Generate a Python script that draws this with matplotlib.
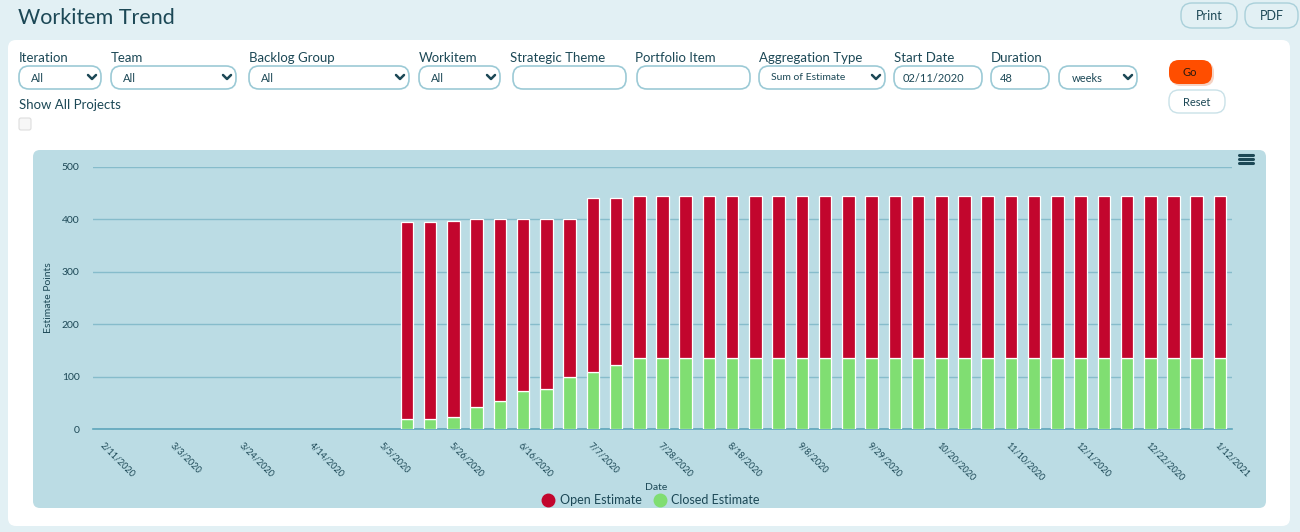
import matplotlib
matplotlib.use('Agg')
import matplotlib.pyplot as plt
import matplotlib.patches as patches
from matplotlib.lines import Line2D
import pandas as pd

plt.rcParams['font.family'] = ['Lato', 'DejaVu Sans']

# ---- data ----------------------------------------------------------------
weeks = pd.date_range('2020-02-11', periods=49, freq='7D')
week_labels = [f'{d.month}/{d.day}/{d.year}' for d in weeks]

open_estimate = [0, 0, 0, 0, 0, 0, 0, 0, 0, 0, 0, 0, 0,
                 375, 375, 373, 357, 346, 327, 324, 300, 331, 318,
                 309, 309, 309, 309, 309, 309, 309, 309, 309, 309, 309, 309, 309,
                 309, 309, 309, 309, 309, 309, 309, 309, 309, 309, 309, 309, 309]
closed_estimate = [0, 0, 0, 0, 0, 0, 0, 0, 0, 0, 0, 0, 0,
                   19, 19, 23, 43, 54, 73, 76, 100, 109, 122,
                   135, 135, 135, 135, 135, 135, 135, 135, 135, 135, 135, 135, 135,
                   135, 135, 135, 135, 135, 135, 135, 135, 135, 135, 135, 135, 135]

y_ticks = [0, 100, 200, 300, 400, 500]

# ---- colours -------------------------------------------------------------
page_bg = '#e2f0f4'
chart_bg = '#bbdce4'
grid_c = '#86bccb'
dark = '#1c4856'
red = '#c2062d'
green = '#80de72'
field_edge = '#9ccad6'

W, H = 1300, 532
fig = plt.figure(figsize=(W / 100, H / 100), dpi=100, facecolor=page_bg)

# background layer in pixel coordinates
bg = fig.add_axes([0, 0, 1, 1])
bg.set_xlim(0, W)
bg.set_ylim(H, 0)
bg.axis('off')


def rbox(x0, y0, x1, y1, r, fc, ec='none', lw=1.0, z=1):
    p = patches.FancyBboxPatch((x0 + r, y0 + r), (x1 - x0) - 2 * r, (y1 - y0) - 2 * r,
                               boxstyle=f'round,pad={r}', fc=fc, ec=ec, lw=lw, zorder=z)
    bg.add_patch(p)


def chevron(x, y):
    bg.plot([x - 4, x, x + 4], [y - 2, y + 2, y - 2], color=dark, lw=1.8,
            solid_capstyle='round', solid_joinstyle='round', zorder=3)


# title + top buttons
bg.text(18, 18, 'Workitem Trend', fontsize=15.5, color=dark, va='center', ha='left')
for x0, x1, t in [(1181, 1237, 'Print'), (1245, 1298, 'PDF')]:
    rbox(x0, 3, x1, 28, 11, page_bg, ec='#a9d0da', lw=1)
    bg.text((x0 + x1) / 2, 16, t, fontsize=9, color=dark, ha='center', va='center', zorder=3)

# white panel
rbox(8, 40, 1290, 526, 8, 'white')

# filter fields: (label, label_x, box_x0, box_x1, value, value_x, dropdown)
fields = [
    ('Iteration', 19, 19, 101, 'All', 31, True),
    ('Team', 111, 111, 236, 'All', 123, True),
    ('Backlog Group', 249, 249, 409, 'All', 261, True),
    ('Workitem', 419, 419, 500, 'All', 431, True),
    ('Strategic Theme', 510, 513, 626, '', 0, False),
    ('Portfolio Item', 635, 637, 750, '', 0, False),
    ('Aggregation Type', 759, 759, 885, 'Sum of Estimate', 771, True),
    ('Start Date', 894, 894, 982, '02/11/2020', 903, False),
    ('Duration', 991, 991, 1049, '48', 1000, False),
    ('', 0, 1059, 1137, 'weeks', 1072, True),
]
for lab, lx, x0, x1, val, vx, dd in fields:
    if lab:
        bg.text(lx, 58, lab, fontsize=9.5, color=dark, va='center', ha='left')
    rbox(x0, 66, x1, 89, 10, 'white', ec=field_edge, lw=1.2, z=2)
    if val:
        bg.text(vx, 78, val, fontsize=8 if len(val) < 12 else 7.5, color=dark,
                va='center', ha='left', zorder=3)
    if dd:
        chevron(x1 - 9, 77)

bg.text(19, 105, 'Show All Projects', fontsize=9.5, color=dark, va='center', ha='left')
rbox(19, 118, 31, 130, 2, '#f7f7f7', ec='#dddddd', lw=0.8, z=2)

# Go / Reset buttons
rbox(1171, 62, 1214, 86, 10, '#f5d3c4', z=1)
rbox(1169, 60, 1212, 84, 10, '#ff4e00', z=2)
bg.text(1190, 72, 'Go', fontsize=8, color='#2a1a10', ha='center', va='center', zorder=3)
rbox(1169, 90, 1225, 113, 10, 'white', ec='#c9e1e8', lw=1, z=2)
bg.text(1197, 102, 'Reset', fontsize=8, color=dark, ha='center', va='center', zorder=3)

# chart container
rbox(33, 150, 1266, 508, 7, chart_bg, z=1)
for yy in (155, 159, 163):
    bg.plot([1239, 1253], [yy, yy], color=dark, lw=2.2, solid_capstyle='round', zorder=3)

# ---- chart -----------------------------------------------------------------
left, right = 93.4, 1231.6
y0_px, y500_px = 429.3, 166.8
ax = fig.add_axes([left / W, 1 - y0_px / H, (right - left) / W, (y0_px - y500_px) / H])
ax.set_facecolor('none')
ax.set_zorder(5)

x = list(range(len(week_labels)))
lw_closed = [0.9 if v > 0 else 0 for v in closed_estimate]
lw_open = [0.9 if v > 0 else 0 for v in open_estimate]
ax.bar(x, closed_estimate, width=0.54, color=green, edgecolor='white', linewidth=lw_closed, zorder=3)
ax.bar(x, open_estimate, width=0.54, bottom=closed_estimate, color=red,
       edgecolor='white', linewidth=lw_open, zorder=3)

ax.set_xlim(-0.5, len(x) - 0.5)
ax.set_ylim(0, 500)
ax.set_yticks(y_ticks)
ax.set_yticklabels([str(v) for v in y_ticks])
ax.grid(axis='y', color=grid_c, lw=1, zorder=0)
ax.set_axisbelow(True)
for s in ('top', 'right', 'left'):
    ax.spines[s].set_visible(False)
ax.spines['bottom'].set_color('#5fa6bb')
ax.spines['bottom'].set_linewidth(1.2)
ax.tick_params(axis='y', length=0, pad=10, labelsize=7.5, labelcolor=dark)

ax.set_xticks(x[::3])
ax.set_xticklabels(week_labels[::3], rotation=-45, ha='left', va='top',
                   rotation_mode='anchor', fontsize=6.5, color=dark)
ax.tick_params(axis='x', length=0, pad=8)

ax.set_ylabel('Estimate Points', fontsize=7.5, color=dark, labelpad=6)
bg.text(656, 488, 'Date', fontsize=7.5, color=dark, ha='center', va='center', zorder=3)

handles = [Line2D([], [], marker='o', ls='none', color=red, markersize=9),
           Line2D([], [], marker='o', ls='none', color=green, markersize=9)]
fig.legend(handles, ['Open Estimate', 'Closed Estimate'], loc='center',
           bbox_to_anchor=(651 / W, 1 - 500 / H), ncol=2, frameon=False,
           fontsize=9, labelcolor=dark, handletextpad=0.4, columnspacing=1.0,
           handlelength=1.0)

fig.savefig('out.png', dpi=100, facecolor=page_bg)
